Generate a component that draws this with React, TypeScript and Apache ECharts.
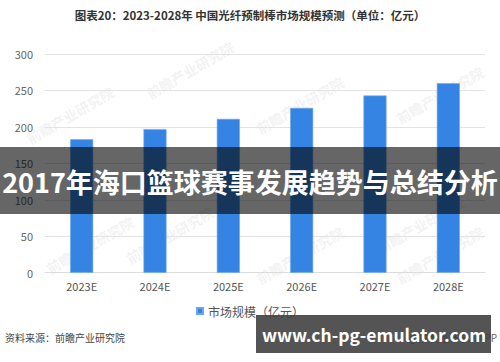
import React, { useEffect, useRef } from "react";
import * as echarts from "echarts";

const categories = ["2023E", "2024E", "2025E", "2026E", "2027E", "2028E"];
const marketSize = [183, 197, 211, 226, 243, 260];
const seriesName = "市场规模（亿元）";
const titleText = "图表20：2023-2028年 中国光纤预制棒市场规模预测（单位：亿元）";
const sourceText = "资料来源：前瞻产业研究院";
const bannerText = "2017年海口篮球赛事发展趋势与总结分析";
const urlText = "www.ch-pg-emulator.com";
const watermarkText = "前瞻产业研究院";

const FONT = '"Noto Sans CJK SC", "Noto Sans", sans-serif';

export default function App() {
  const ref = useRef<HTMLDivElement>(null);
  useEffect(() => {
    if (!ref.current) return;
    const chart = echarts.init(ref.current, undefined, { renderer: "svg" });
    const wm = [
      [70, 115], [300, 105], [440, 95], [90, 245], [300, 255], [440, 255], [190, 70], [420, 225], [170, 235],
    ].map(([x, y]) => ({
      type: "text",
      x,
      y,
      rotation: Math.PI / 6,
      z: 0,
      silent: true,
      style: {
        text: watermarkText,
        fill: "rgba(200,200,200,0.22)",
        font: `bold 14px ${FONT}`,
        textAlign: "center",
        textVerticalAlign: "middle",
      },
    }));
    chart.setOption({
      animation: false,
      backgroundColor: "#ffffff",
      textStyle: { fontFamily: FONT },
      grid: { left: 45, right: 15, top: 54, bottom: 89.3, containLabel: false },
      legend: {
        data: [seriesName],
        left: "center",
        top: 300,
        icon: "rect",
        itemWidth: 6,
        itemHeight: 6,
        itemGap: 4,
        textStyle: { fontSize: 12, color: "#555", fontFamily: FONT },
      },
      xAxis: {
        type: "category",
        data: categories,
        axisLine: { lineStyle: { color: "#dcdcdc", width: 1 } },
        axisTick: { show: false },
        axisLabel: { color: "#555", fontSize: 11, margin: 8, fontFamily: FONT },
      },
      yAxis: {
        type: "value",
        min: 0,
        max: 300,
        interval: 50,
        axisLine: { show: false },
        axisTick: { show: false },
        axisLabel: { color: "#666", fontSize: 11, margin: 12, fontFamily: FONT },
        splitLine: { lineStyle: { color: "#e3e3e3", width: 1 } },
      },
      series: [
        {
          name: seriesName,
          type: "bar",
          data: marketSize,
          barWidth: 23,
          itemStyle: { color: "#3584e4", borderColor: "#6aa6ee", borderWidth: 0.6 },
        },
      ],
      graphic: [
        ...wm,
        {
          type: "text",
          left: "center",
          top: 9,
          z: 10,
          style: {
            text: titleText,
            fill: "#333",
            font: `bold 11.5px ${FONT}`,
          },
        },
        {
          type: "text",
          left: 5,
          top: 332,
          z: 10,
          style: { text: sourceText, fill: "#444", font: `10px ${FONT}` },
        },
        {
          type: "text",
          right: 3,
          top: 332,
          z: 10,
          style: { text: "@前瞻经济学人APP", fill: "#666", font: `10px ${FONT}` },
        },
        {
          type: "rect",
          z: 100,
          shape: { x: 0, y: 147, width: 500, height: 67 },
          style: { fill: "rgba(0,0,0,0.6)" },
        },
        {
          type: "text",
          z: 101,
          x: 250,
          y: 181,
          style: {
            text: bannerText,
            fill: "#fff",
            font: `bold 27px ${FONT}`,
            textAlign: "center",
            textVerticalAlign: "middle",
          },
        },
        {
          type: "rect",
          z: 100,
          shape: { x: 256, y: 315, width: 235, height: 38 },
          style: { fill: "rgba(60,60,60,0.88)" },
        },
        {
          type: "text",
          z: 101,
          x: 374,
          y: 334,
          style: {
            text: urlText,
            fill: "#fff",
            font: `bold 17.5px ${FONT}`,
            textAlign: "center",
            textVerticalAlign: "middle",
          },
        },
      ],
    });
    return () => chart.dispose();
  }, []);
  return (
    <div
      ref={ref}
      style={{ position: "fixed", left: 0, top: 0, width: 500, height: 362 }}
    />
  );
}
